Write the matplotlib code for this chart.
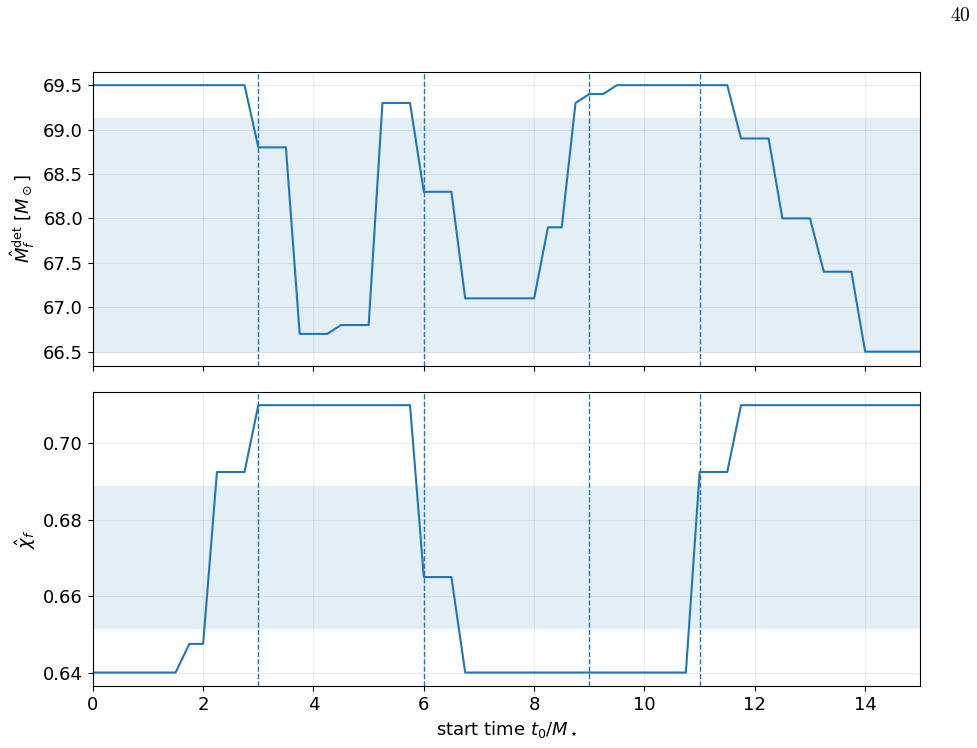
import numpy as np
import matplotlib
matplotlib.use("Agg")
import matplotlib.pyplot as plt

# start times t0/M (step 0.25)
t0 = np.arange(0, 15.01, 0.25)

# final mass estimates per start time
mass = [69.5, 69.5, 69.5, 69.5, 69.5, 69.5, 69.5, 69.5, 69.5, 69.5, 69.5, 69.5,
        68.8, 68.8, 68.8, 66.7, 66.7, 66.7, 66.8, 66.8, 66.8, 69.3, 69.3, 69.3,
        68.3, 68.3, 68.3, 67.1, 67.1, 67.1, 67.1, 67.1, 67.1, 67.9, 67.9, 69.3,
        69.4, 69.4, 69.5, 69.5, 69.5, 69.5, 69.5, 69.5, 69.5, 69.5, 69.5, 68.9,
        68.9, 68.9, 68.0, 68.0, 68.0, 67.4, 67.4, 67.4, 66.5, 66.5, 66.5, 66.5,
        66.5]

# final spin estimates per start time
spin = [0.64, 0.64, 0.64, 0.64, 0.64, 0.64, 0.64, 0.6475, 0.6475, 0.6925, 0.6925, 0.6925,
        0.71, 0.71, 0.71, 0.71, 0.71, 0.71, 0.71, 0.71, 0.71, 0.71, 0.71, 0.71,
        0.665, 0.665, 0.665, 0.64, 0.64, 0.64, 0.64, 0.64, 0.64, 0.64, 0.64, 0.64,
        0.64, 0.64, 0.64, 0.64, 0.64, 0.64, 0.64, 0.64, 0.6925, 0.6925, 0.6925, 0.71,
        0.71, 0.71, 0.71, 0.71, 0.71, 0.71, 0.71, 0.71, 0.71, 0.71, 0.71, 0.71,
        0.71]

# credible bands from the full analysis
mass_band = (66.49, 69.13)
spin_band = (0.6514, 0.6889)

# marked start times
marks = [3, 6, 9, 11]

plt.rcParams['font.size'] = 13

fig, (ax1, ax2) = plt.subplots(2, 1, sharex=True, figsize=(9.77, 7.48), dpi=100)
fig.subplots_adjust(left=0.095, right=0.942, top=0.904, bottom=0.083, hspace=0.088)

for ax, y, band in [(ax1, mass, mass_band), (ax2, spin, spin_band)]:
    ax.axhspan(band[0], band[1], color='C0', alpha=0.12, lw=0)
    ax.plot(t0, y, color='C0', lw=1.5)
    for m in marks:
        ax.axvline(m, color='C0', ls='--', lw=1)
    ax.grid(True, color='gray', alpha=0.15)
    ax.set_xlim(0, 15)

ax1.set_ylabel(r'$\hat{M}_f^{\rm det}\ [M_\odot]$')
ax2.set_ylabel(r'$\hat{\chi}_f$')
ax2.set_xlabel(r'start time $t_0/M_\star$')

ax1.set_yticks([66.5, 67.0, 67.5, 68.0, 68.5, 69.0, 69.5])
ax2.set_yticks([0.64, 0.66, 0.68, 0.70])

# page number
fig.text(0.994, 0.972, r'$\mathrm{40}$', ha='right', va='baseline',
         math_fontfamily='cm', fontsize=14)

fig.savefig('out.png', dpi=100)
